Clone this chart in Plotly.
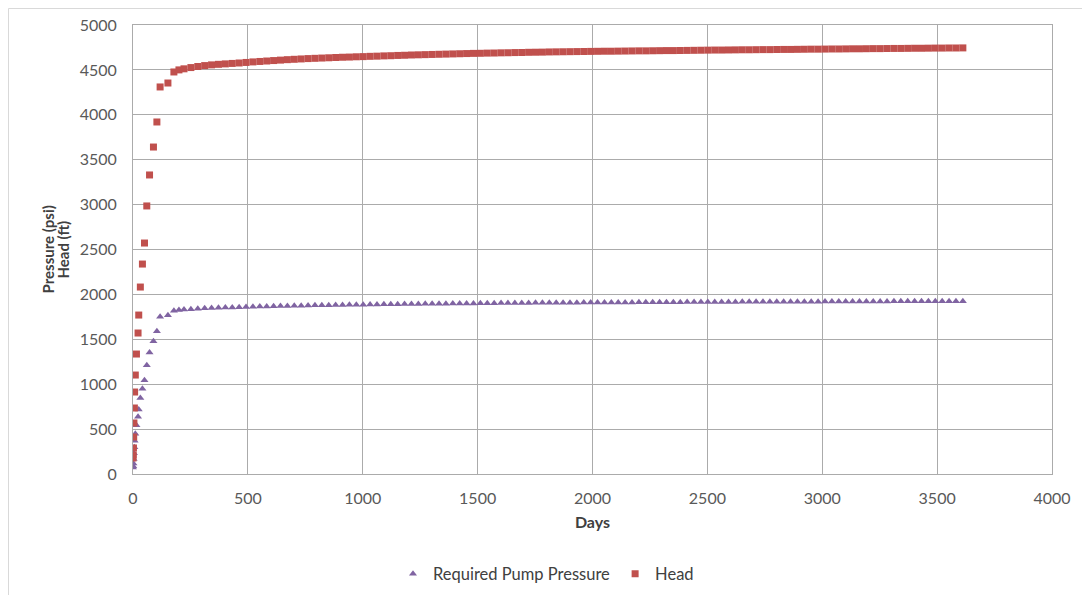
import plotly.graph_objects as go

# ---- data ----
days = [0, 1, 2, 3, 4, 6, 7, 10, 15, 22, 25, 32, 41, 50, 60, 72, 89, 104, 118, 152, 178, 200,
        222, 252, 282, 312, 342, 372, 402, 432, 462, 492,
        522, 552, 582, 612, 642, 672, 702, 732, 762,
        792, 822, 852, 882, 912, 942, 972, 1002,
        1032, 1062, 1092, 1122, 1152, 1182, 1212, 1242,
        1272, 1302, 1332, 1362, 1392, 1422, 1452, 1482,
        1512, 1542, 1572, 1602, 1632, 1662, 1692, 1722, 1752,
        1782, 1812, 1842, 1872, 1902, 1932, 1962, 1992,
        2022, 2052, 2082, 2112, 2142, 2172, 2202, 2232, 2262, 2292, 2322, 2352, 2382, 2412, 2442, 2472, 2502,
        2532, 2562, 2592, 2622, 2652, 2682, 2712, 2742, 2772, 2802, 2832, 2862, 2892, 2922, 2952, 2982, 3012,
        3042, 3072, 3102, 3132, 3162, 3192, 3222, 3252, 3282, 3312, 3342, 3372, 3402, 3432, 3462, 3492, 3522,
        3552, 3582, 3612]

head_ft = [178, 212, 290, 412, 568, 735, 913, 1102, 1336, 1570, 1770, 2082, 2338, 2572, 2985, 3330, 3641,
           3920, 4310, 4354, 4477, 4500,
           4512, 4526, 4538, 4548, 4556, 4562, 4567, 4572, 4577, 4583,
           4589, 4594, 4599, 4604, 4609, 4614, 4618, 4622, 4626,
           4629, 4632, 4635, 4638, 4641, 4643, 4646, 4648,
           4651, 4653, 4656, 4658, 4661, 4663, 4666, 4668,
           4670, 4672, 4674, 4676, 4678, 4680, 4682, 4684,
           4685, 4687, 4688, 4690, 4691, 4693, 4694, 4696, 4697,
           4698, 4700, 4701, 4702, 4703, 4704, 4705, 4706,
           4707, 4708, 4708, 4709, 4710, 4711, 4712, 4712, 4713, 4714, 4715, 4715, 4716, 4717, 4718, 4719, 4720,
           4721, 4721, 4722, 4723, 4724, 4724, 4725, 4726, 4726, 4727, 4728, 4728, 4729, 4730, 4731, 4731, 4732,
           4733, 4733, 4734, 4735, 4735, 4736, 4737, 4737, 4738, 4739, 4739, 4740, 4741, 4741, 4742, 4743, 4743,
           4744, 4744, 4745]

pump_psi = [72, 86, 118, 167, 230, 298, 370, 447, 542, 637, 718, 845, 949, 1044, 1212, 1352, 1478,
            1591, 1750, 1768, 1818, 1827,
            1831, 1836, 1841, 1845, 1848, 1851, 1853, 1855, 1857, 1859,
            1862, 1864, 1866, 1868, 1870, 1872, 1874, 1875, 1877,
            1878, 1879, 1880, 1882, 1883, 1884, 1885, 1886,
            1887, 1888, 1889, 1890, 1891, 1892, 1893, 1894,
            1895, 1895, 1896, 1897, 1898, 1899, 1900, 1900,
            1901, 1902, 1902, 1903, 1903, 1904, 1904, 1905, 1906,
            1906, 1907, 1907, 1908, 1908, 1908, 1909, 1909,
            1910, 1910, 1910, 1910, 1911, 1911, 1912, 1912, 1912, 1913, 1913, 1913, 1913, 1914, 1914, 1915, 1915,
            1915, 1915, 1916, 1916, 1917, 1917, 1917, 1917, 1917, 1918, 1918, 1918, 1919, 1919, 1919, 1919, 1920,
            1920, 1920, 1921, 1921, 1921, 1921, 1922, 1922, 1922, 1923, 1923, 1923, 1923, 1923, 1924, 1924, 1924,
            1925, 1925, 1925]

x_ticks = [0, 500, 1000, 1500, 2000, 2500, 3000, 3500, 4000]
y_ticks = [0, 500, 1000, 1500, 2000, 2500, 3000, 3500, 4000, 4500, 5000]

FONT = "Lato"
# the page body adds an 8px offset, so the figure is sized to fit the 1090x595 window
W, H = 1082, 587
L, R, T, B = 125, 38, 17, 121
pw, ph = W - L - R, H - T - B

fig = go.Figure()
fig.add_trace(go.Scatter(
    x=days, y=pump_psi, mode="markers", name="Required Pump Pressure",
    marker=dict(symbol="triangle-up", size=7, color="#8064A2"),
))
fig.add_trace(go.Scatter(
    x=days, y=head_ft, mode="markers", name="Head",
    marker=dict(symbol="square", size=7, color="#C0504D"),
))

grid = "#ababab"
tickfont = dict(family=FONT, size=16, color="#595959")
titlefont = dict(family=FONT, size=16, color="#404040")
ytitlefont = dict(family=FONT, size=15, color="#404040")
fig.update_xaxes(
    range=[0, 4000], tickvals=x_ticks, ticktext=[str(v) for v in x_ticks],
    showgrid=True, gridcolor=grid, gridwidth=1,
    showline=True, linecolor=grid, linewidth=1, mirror=True,
    zeroline=False, ticks="outside", ticklen=10, tickcolor="rgba(0,0,0,0)",
    tickfont=tickfont, automargin=False,
    title=dict(text="<b>Days</b>", font=titlefont, standoff=10),
)
fig.update_yaxes(
    range=[0, 5000], tickvals=y_ticks, ticktext=[str(v) for v in y_ticks],
    showgrid=True, gridcolor=grid, gridwidth=1,
    showline=True, linecolor=grid, linewidth=1, mirror=True,
    zeroline=False, ticks="outside", ticklen=12, tickcolor="rgba(0,0,0,0)",
    tickfont=tickfont, automargin=False,
)

# y-axis title as two rotated lines
fig.add_annotation(text="<b>Pressure (psi)</b>", xref="paper", yref="paper",
                   x=(39 - L) / pw, y=0.5, xanchor="center", yanchor="middle",
                   textangle=-90, showarrow=False, font=ytitlefont)
fig.add_annotation(text="<b>Head (ft)</b>", xref="paper", yref="paper",
                   x=(54 - L) / pw, y=0.5, xanchor="center", yanchor="middle",
                   textangle=-90, showarrow=False, font=ytitlefont)

# outer chart border (pixel box converted to paper coords)
fig.add_shape(type="rect", xref="paper", yref="paper",
              x0=(0.5 - L) / pw, x1=(1079 - L) / pw,
              y0=(H - B - 592) / ph, y1=(H - B - 0.5) / ph,
              line=dict(color="#d9d9d9", width=1), fillcolor="rgba(0,0,0,0)", layer="below")

fig.update_layout(
    width=W, height=H,
    margin=dict(l=L, r=R, t=T, b=B, autoexpand=False),
    paper_bgcolor="white", plot_bgcolor="white",
    font=dict(family=FONT, size=15, color="#404040"),
    showlegend=True,
    legend=dict(orientation="h", xref="paper", x=(538 - L) / pw, xanchor="center",
                yref="container", y=(H - 566) / H, yanchor="middle",
                font=dict(family=FONT, size=16.5, color="#404040"), itemsizing="trace", itemwidth=30,
                tracegroupgap=0),
)

fig.write_html("out.html")
